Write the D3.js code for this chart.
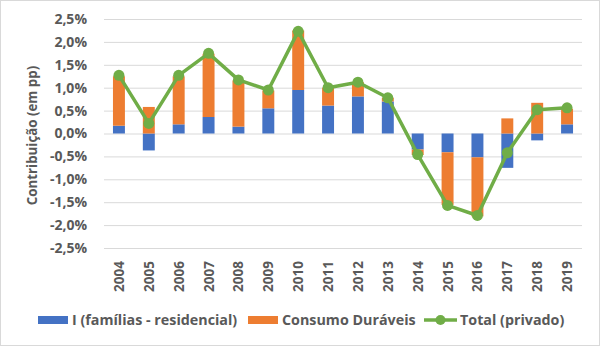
<!DOCTYPE html>
<html>
<head>
<meta charset="utf-8">
<script src="https://cdn.jsdelivr.net/npm/d3@7"></script>
<style>
  body { margin: 0; background: #fff; }
  text { font-family: "Open Sans", sans-serif; font-weight: bold; fill: #595959; }
</style>
</head>
<body>
<div id="chart"></div>
<script>
const years = ["2004","2005","2006","2007","2008","2009","2010","2011","2012","2013","2014","2015","2016","2017","2018","2019"];
const residencial = [0.17, -0.37, 0.20, 0.36, 0.15, 0.55, 0.95, 0.61, 0.81, 0.70, -0.35, -0.41, -0.52, -0.75, -0.15, 0.20];
const duraveis = [1.08, 0.58, 1.05, 1.38, 1.01, 0.39, 1.30, 0.39, 0.31, 0.08, -0.12, -1.15, -1.29, 0.33, 0.67, 0.34];
const total = [1.27, 0.22, 1.27, 1.75, 1.17, 0.95, 2.23, 1.00, 1.12, 0.78, -0.46, -1.57, -1.79, -0.42, 0.52, 0.56];
const yTicks = [2.5, 2.0, 1.5, 1.0, 0.5, 0.0, -0.5, -1.0, -1.5, -2.0, -2.5];
const legendLabels = ["I (famílias - residencial)", "Consumo Duráveis", "Total (privado)"];
const colors = ["#4472C4", "#ED7D31", "#70AD47"];

const W = 600, H = 346;
const margin = {top: 19, right: 18, bottom: 98, left: 104};
const width = W - margin.left - margin.right;
const height = H - margin.top - margin.bottom;

const svg = d3.select("#chart").append("svg")
  .attr("width", W).attr("height", H);

svg.append("rect")
  .attr("x", 0.5).attr("y", 0.5)
  .attr("width", W - 1).attr("height", H - 1)
  .attr("fill", "#fff").attr("stroke", "#d9d9d9");

const g = svg.append("g").attr("transform", `translate(${margin.left},${margin.top})`);

const x = d3.scaleBand().domain(years).range([0, width]).paddingInner(0.6).paddingOuter(0.3);
const y = d3.scaleLinear().domain([-2.5, 2.5]).range([height, 0]);
const fmt = d => d3.format(".1f")(d).replace(".", ",").replace("−", "-") + "%";

// gridlines + y labels
g.append("g")
  .call(d3.axisLeft(y).tickValues(yTicks).tickSize(-width).tickFormat(fmt).tickPadding(17))
  .call(a => a.select(".domain").remove())
  .call(a => a.selectAll("line").attr("stroke", "#d9d9d9").attr("stroke-width", 1))
  .call(a => a.selectAll("text").attr("font-size", 14).attr("fill", "#595959")
    .style("font-family", "Open Sans").style("font-weight", "bold"));

// stacked bars, positives and negatives stacked separately
const stacks = years.map((yr, i) => {
  let pos = 0, neg = 0;
  return [residencial[i], duraveis[i]].map((v, k) => {
    let y0, y1;
    if (v >= 0) { y0 = pos; y1 = pos + v; pos = y1; }
    else { y0 = neg; y1 = neg + v; neg = y1; }
    return {yr, k, y0, y1};
  });
}).flat();

g.selectAll("rect.bar")
  .data(stacks)
  .enter()
  .append("rect")
  .attr("class", "bar")
  .attr("x", d => x(d.yr))
  .attr("width", x.bandwidth())
  .attr("y", d => y(Math.max(d.y0, d.y1)))
  .attr("height", d => Math.abs(y(d.y0) - y(d.y1)))
  .attr("fill", d => colors[d.k]);

// total line
const line = d3.line()
  .x((d, i) => x(years[i]) + x.bandwidth() / 2)
  .y(d => y(d));

g.append("path")
  .datum(total)
  .attr("d", line)
  .attr("fill", "none")
  .attr("stroke", colors[2])
  .attr("stroke-width", 3.5)
  .attr("stroke-linejoin", "round");

g.selectAll("circle.pt")
  .data(total)
  .enter()
  .append("circle")
  .attr("class", "pt")
  .attr("cx", (d, i) => x(years[i]) + x.bandwidth() / 2)
  .attr("cy", d => y(d))
  .attr("r", 5.5)
  .attr("fill", colors[2]);

// x labels, rotated
g.selectAll("text.xl")
  .data(years)
  .enter()
  .append("text")
  .attr("class", "xl")
  .attr("transform", d => `translate(${x(d) + x.bandwidth() / 2 + 5},${height + 13}) rotate(-90)`)
  .attr("text-anchor", "end")
  .attr("font-size", 13.5)
  .text(d => d);

// y axis title
svg.append("text")
  .attr("transform", `translate(37,${margin.top + height / 2 + 2}) rotate(-90)`)
  .attr("text-anchor", "middle")
  .attr("font-size", 13.3)
  .text("Contribuição (em pp)");

// legend
const leg = svg.append("g").attr("transform", "translate(0,320)");
const legX = [38, 248, 424];
leg.selectAll("rect")
  .data([0, 1])
  .enter()
  .append("rect")
  .attr("x", d => legX[d])
  .attr("y", -4)
  .attr("width", 30)
  .attr("height", 8)
  .attr("fill", d => colors[d]);
leg.append("line")
  .attr("x1", legX[2]).attr("x2", legX[2] + 33)
  .attr("y1", 0).attr("y2", 0)
  .attr("stroke", colors[2]).attr("stroke-width", 3.5);
leg.append("circle")
  .attr("cx", legX[2] + 16.5).attr("cy", 0).attr("r", 5).attr("fill", colors[2]);
leg.selectAll("text")
  .data(legendLabels)
  .enter()
  .append("text")
  .attr("x", (d, i) => legX[i] + (i == 2 ? 36 : 34))
  .attr("y", 0)
  .attr("dy", "0.35em")
  .attr("font-size", 14.3)
  .text(d => d);
</script>
</body>
</html>
